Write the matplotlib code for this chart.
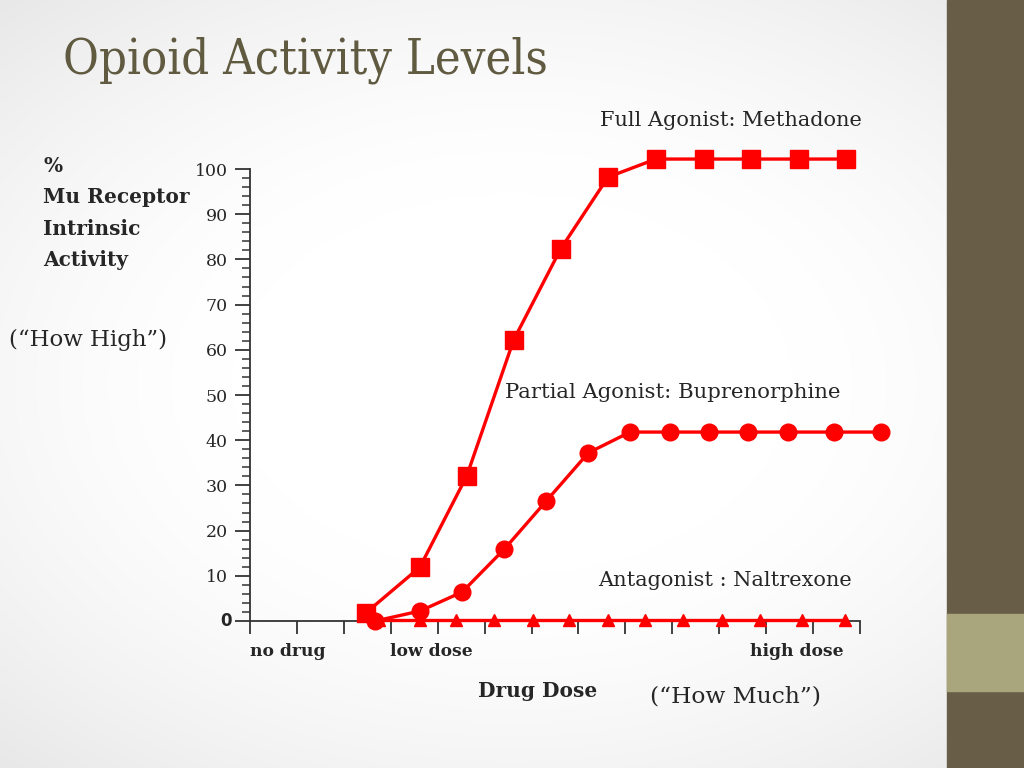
import numpy as np
import matplotlib.pyplot as plt
from matplotlib.patches import Rectangle

# dose positions measured in tick units (0 = no drug)
full_x = [2.47, 3.62, 4.62, 5.62, 6.62, 7.63, 8.65, 9.67, 10.67, 11.7, 12.7]
full_y = [1.8, 11.9, 32.1, 62.2, 82.3, 98.2, 102.2, 102.2, 102.2, 102.2, 102.2]

partial_x = [2.67, 3.62, 4.52, 5.42, 6.31, 7.21, 8.1, 8.96, 9.79, 10.62, 11.47, 12.45, 13.45]
partial_y = [0, 2.2, 6.4, 15.9, 26.5, 37.2, 41.8, 41.8, 41.8, 41.8, 41.8, 41.8, 41.8]

antag_x = [2.75, 3.62, 4.4, 5.2, 6.03, 6.8, 7.63, 8.42, 9.23, 10.05, 10.87, 11.77, 12.69]
antag_y = [0.3, 0.3, 0.3, 0.3, 0.3, 0.3, 0.3, 0.3, 0.3, 0.3, 0.3, 0.3, 0.3]

yticks = [0, 10, 20, 30, 40, 50, 60, 70, 80, 90, 100]
n_xticks = 14

serif = ['DejaVu Serif']
red = '#ff0000'
txt = '#262626'

fig = plt.figure(figsize=(10.24, 7.68), dpi=100)

# slide background with a soft grey vignette
bg = fig.add_axes([0, 0, 1, 1])
gx, gy = np.meshgrid(np.linspace(-1, 1, 400), np.linspace(-1, 1, 300))
r = np.sqrt((gx * 1.0) ** 2 + (gy * 1.1) ** 2)
shade = 1 - 0.10 * np.clip(r - 0.55, 0, None) ** 1.5
bg.imshow(np.dstack([shade] * 3), extent=[0, 1, 0, 1], aspect='auto')
bg.add_patch(Rectangle((947 / 1024, 0), 1, 1, color='#685d46'))
bg.add_patch(Rectangle((947 / 1024, (768 - 691) / 768), 1, 77 / 768, color='#a9a57c'))
bg.set_xlim(0, 1)
bg.set_ylim(0, 1)
bg.axis('off')

ax = fig.add_axes([250 / 1024, (768 - 621) / 768, 610 / 1024, 452 / 768])
ax.patch.set_alpha(0)

ax.plot(full_x, full_y, color=red, lw=2.4, marker='s', ms=13, clip_on=False, zorder=3)
ax.plot(partial_x, partial_y, color=red, lw=2.4, marker='o', ms=12, clip_on=False, zorder=3)
ax.plot(antag_x, antag_y, color=red, lw=2.4, marker='^', ms=9, clip_on=False, zorder=3)

ax.set_xlim(0, n_xticks - 1)
ax.set_ylim(0, 100)
for s in ['top', 'right']:
    ax.spines[s].set_visible(False)
for s in ['left', 'bottom']:
    ax.spines[s].set_color('#333333')
    ax.spines[s].set_linewidth(1.3)

ax.set_xticks(range(n_xticks))
ax.set_xticklabels([])
ax.tick_params(axis='x', direction='out', length=9, width=1.3, color='#333333')
ax.set_yticks(yticks)
ax.set_yticks(np.arange(0, 101, 2), minor=True)
ax.set_yticklabels([''] + [str(v) for v in yticks[1:]], family=serif, fontsize=12.5, color=txt)
ax.tick_params(axis='y', which='major', direction='out', length=11, width=1.3, color='#333333', pad=5)
ax.tick_params(axis='y', which='minor', direction='out', length=6, width=1.1, color='#333333')

# texts in figure pixel coordinates
def put(x, y, s, **kw):
    fig.text(x / 1024, 1 - y / 768, s, **kw)

put(63, 60, 'Opioid Activity Levels', family=serif, fontsize=35, fontstretch='condensed',
    color='#5f5a40', va='center')
put(600, 120, 'Full Agonist: Methadone', family=serif, fontsize=15, color=txt, va='center')
put(505, 392, 'Partial Agonist: Buprenorphine', family=serif, fontsize=15.3, color=txt, va='center')
put(598, 580, 'Antagonist : Naltrexone', family=serif, fontsize=15, color=txt, va='center')
put(43, 213, '%\nMu Receptor\nIntrinsic\nActivity', family=serif, fontsize=14.5, fontweight='bold',
    color=txt, va='center', linespacing=1.7)
put(9, 340, '(\u201cHow High\u201d)', family=serif, fontsize=16.5, color=txt, va='center')
put(226, 621, '0', fontsize=12, fontweight='bold', color=txt, va='center', ha='center')
put(250, 651, 'no drug', family=serif, fontsize=12.3, fontweight='bold', color=txt, va='center')
put(390, 652, 'low dose', family=serif, fontsize=12.3, fontweight='bold', color=txt, va='center')
put(750, 652, 'high dose', family=serif, fontsize=12.3, fontweight='bold', color=txt, va='center')
put(478, 691, 'Drug Dose', family=serif, fontsize=14.5, fontweight='bold', color=txt, va='center')
put(650, 697, '(\u201cHow Much\u201d)', family=serif, fontsize=16.8, color=txt, va='center')

fig.savefig('out.png', dpi=100)
